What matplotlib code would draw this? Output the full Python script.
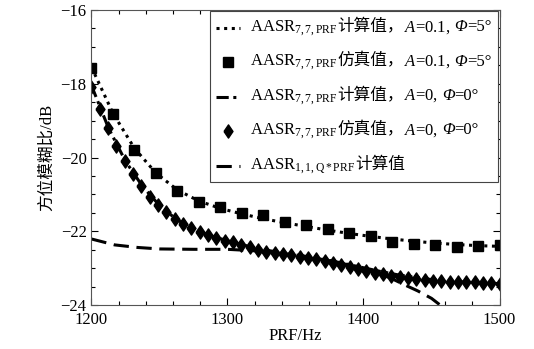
import matplotlib
matplotlib.use("Agg")
import matplotlib.pyplot as plt
import numpy as np
from matplotlib.ticker import MultipleLocator
from matplotlib.lines import Line2D
from matplotlib.offsetbox import (AnchoredOffsetbox, VPacker, HPacker, TextArea,
                                  DrawingArea)

plt.rcParams['font.family'] = ['Liberation Serif', 'Noto Sans CJK SC']
plt.rcParams['mathtext.fontset'] = 'custom'
plt.rcParams['mathtext.rm'] = 'Liberation Serif'
plt.rcParams['mathtext.it'] = 'Liberation Serif:italic'
plt.rcParams['axes.unicode_minus'] = True

# ---- data ----
prf_sq = np.linspace(1200, 1500, 20)
sim_a01 = [-17.58, -18.82, -19.79, -20.43, -20.90, -21.22, -21.33, -21.51, -21.57, -21.75,
           -21.83, -21.93, -22.05, -22.12, -22.28, -22.34, -22.37, -22.44, -22.41, -22.38]
calc_a01 = [-17.55, -18.80, -19.75, -20.42, -20.88, -21.18, -21.38, -21.53, -21.66, -21.77,
            -21.87, -21.97, -22.06, -22.14, -22.21, -22.27, -22.32, -22.36, -22.39, -22.41]

prf_dm = np.linspace(1200, 1500, 50)
sim_a0 = [-18.09, -18.69, -19.21, -19.69, -20.09, -20.44, -20.77, -21.06, -21.28, -21.49,
          -21.66, -21.80, -21.92, -22.02, -22.11, -22.19, -22.26, -22.30, -22.37, -22.43,
          -22.50, -22.55, -22.58, -22.61, -22.65, -22.69, -22.72, -22.76, -22.80, -22.85,
          -22.91, -22.97, -23.02, -23.07, -23.12, -23.15, -23.21, -23.24, -23.26, -23.29,
          -23.32, -23.34, -23.35, -23.37, -23.38, -23.39, -23.39, -23.40, -23.41, -23.43]
prf_c0 = np.linspace(1200, 1500, 25)
calc_a0 = [-18.05, -19.20, -20.10, -20.78, -21.30, -21.68, -21.94, -22.12, -22.26, -22.38,
           -22.49, -22.57, -22.64, -22.71, -22.79, -22.89, -22.99, -23.09, -23.18, -23.25,
           -23.31, -23.35, -23.38, -23.40, -23.42]

prf_q = [1200, 1217, 1234, 1250, 1275, 1300, 1320, 1350, 1380, 1400, 1410, 1420, 1430,
         1440, 1450, 1457, 1465]
calc_q = [-22.21, -22.37, -22.44, -22.48, -22.49, -22.49, -22.53, -22.64, -22.83, -23.02,
          -23.13, -23.27, -23.45, -23.62, -23.82, -24.02, -24.25]

# legend label pieces: (latin/math prefix, chinese part, A part, phi value part)
label_parts = [
    (r'AASR$_{7,7,\mathrm{PRF}}$', '计算值，', r'$A$=0.1,', '=5°'),
    (r'AASR$_{7,7,\mathrm{PRF}}$', '仿真值，', r'$A$=0.1,', '=5°'),
    (r'AASR$_{7,7,\mathrm{PRF}}$', '计算值，', r'$A$=0,', '=0°'),
    (r'AASR$_{7,7,\mathrm{PRF}}$', '仿真值，', r'$A$=0,', '=0°'),
    (r'AASR$_{1,1,\mathrm{Q*PRF}}$', '计算值', '', ''),
]

diamond = [(-0.68, 0), (0, 1), (0.68, 0), (0, -1), (-0.68, 0)]

styles = [
    dict(color='black', lw=2.2, linestyle=(0, (1, 1.5)), marker=None),
    dict(color='black', lw=0, linestyle='none', marker='s', ms=6.5),
    dict(color='black', lw=2.2, linestyle=(0, (4, 1.5, 1, 1.5, 1, 1.5)), marker=None),
    dict(color='black', lw=0, linestyle='none', marker=diamond, ms=9.5),
    dict(color='black', lw=2.2, linestyle=(0, (5, 2.5)), marker=None),
]

fig = plt.figure(figsize=(5.34, 3.49), dpi=100)
ax = fig.add_axes([0.1713, 0.1261, 0.7641, 0.8452])

ax.plot(prf_sq, calc_a01, **styles[0])
ax.plot(prf_sq, sim_a01, **styles[1])
ax.plot(prf_c0, calc_a0, **styles[2])
ax.plot(prf_dm, sim_a0, **styles[3])
ax.plot(prf_q, calc_q, **styles[4])

ax.set_xlim(1200, 1500)
ax.set_ylim(-24, -16)
ax.set_xticks([1200, 1300, 1400, 1500])
ax.set_yticks([-24, -22, -20, -18, -16])
ax.xaxis.set_minor_locator(MultipleLocator(20))
ax.yaxis.set_minor_locator(MultipleLocator(0.5))
ax.tick_params(which='both', direction='in', top=True, right=True, labelsize=12, width=0.8)
ax.tick_params(which='major', length=5)
ax.tick_params(which='minor', length=3)
ax.tick_params(axis='x', pad=5)
for s in ax.spines.values():
    s.set_linewidth(0.8)
    s.set_color('#555555')

ax.set_xlabel('PRF/Hz', fontsize=12, labelpad=0)
ax.set_ylabel('方位模糊比/dB', fontsize=12, labelpad=4)

# ---- custom legend with mixed fonts ----
serif = dict(size=12, family='Liberation Serif')
rows = []
hw, hh = 17, 10
for st, (pre, zh, apart, phipart) in zip(styles, label_parts):
    da = DrawingArea(hw, hh, 0, 0)
    if st['marker'] is None:
        da.add_artist(Line2D([0, hw], [hh / 2, hh / 2], color=st['color'], lw=st['lw'],
                             linestyle=st['linestyle']))
    else:
        da.add_artist(Line2D([hw / 2], [hh / 2], color=st['color'], linestyle='none',
                             marker=st['marker'], ms=st['ms']))
    texts = [TextArea(pre, textprops=serif),
             TextArea(zh, textprops=dict(size=12, family='Noto Sans CJK SC'))]
    if apart:
        texts.append(HPacker(children=[
            TextArea(apart, textprops=serif),
            TextArea('Φ', textprops=dict(size=12, family='Liberation Serif', style='italic')),
        ], align='baseline', pad=0, sep=3))
        texts.append(TextArea(phipart, textprops=serif))
    txt = HPacker(children=texts, align='baseline', pad=0, sep=0)
    rows.append(HPacker(children=[da, txt], align='center', pad=0, sep=7))

vp = VPacker(children=rows, align='left', pad=0, sep=10.5)

anch = AnchoredOffsetbox(loc='upper right', child=vp, pad=0.4, borderpad=0.08,
                         frameon=True, prop=dict(size=12))
anch.patch.set_boxstyle('square', pad=0)
anch.patch.set_edgecolor('#444444')
anch.patch.set_linewidth(0.8)
ax.add_artist(anch)

fig.savefig('out.png', dpi=100)
